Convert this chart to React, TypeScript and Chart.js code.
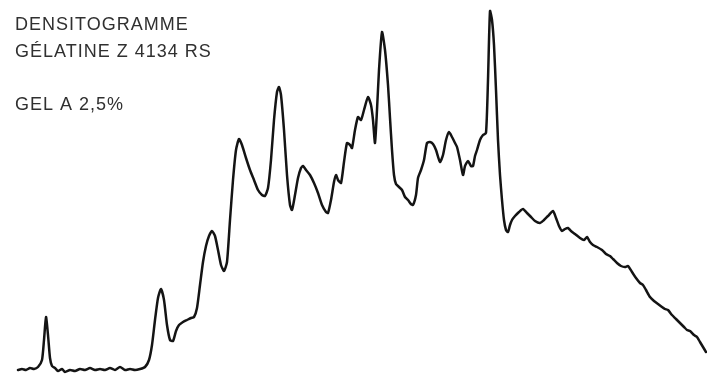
import React, { useEffect, useRef } from "react";
import { Chart, registerables } from "chart.js";

Chart.register(...registerables);

// Densitogram: migration position (arbitrary units) vs optical density (arbitrary units)
const positions: number[] = [18,22,26,30,34,38,42,44,46,48,50,52,55,58,62,65,70,75,80,85,90,95,100,105,110,115,120,125,130,135,140,145,149,152,155,158,161,164,167,170,173,176,179,183,187,191,194,197,200,203,206,209,212,215,218,221,224,227,230,233,236,239,242,246,250,254,258,262,265,268,271,274,277,279,281,284,287,290,292,295,298,301,303,306,310,314,318,322,326,328,331,334,336,338,341,344,347,350,352,355,358,361,364,368,371,373,375,377,379,382,385,388,390,392,394,396,399,402,405,408,411,413,416,418,421,424,427,430,433,436,440,443,446,449,452,455,457,460,463,465,468,471,473,475,477,480,483,486,488,490,492,494,496,498,500,502,504,506,508,510,512,515,519,523,527,531,535,540,544,548,553,556,559,562,565,568,571,575,580,584,587,590,593,597,602,606,610,613,617,621,625,628,632,636,640,643,646,650,654,658,662,665,668,672,676,680,684,687,690,694,697,700,703,706];

const density: number[] = [6,7,6,8,7,9,16,36,59,41,18,10,8,5,7,4,6,5,7,6,8,6,7,6,8,6,9,6,7,6,7,9,16,31,56,78,87,76,51,36,35,45,51,54,56,58,59,68,91,114,130,140,145,140,126,111,105,114,156,196,226,237,231,218,206,196,186,181,180,188,216,256,284,289,281,246,201,171,166,181,198,208,210,206,201,193,183,171,164,163,176,194,201,196,193,214,233,231,228,246,259,256,266,279,271,256,233,266,306,344,326,291,258,226,201,192,189,186,179,176,172,171,181,198,206,216,233,234,232,226,214,221,236,244,239,233,229,216,201,210,215,210,210,220,226,236,241,243,296,365,356,331,286,236,201,176,156,146,144,151,156,160,164,167,163,159,155,153,156,160,165,158,150,145,147,148,145,142,138,136,139,134,131,129,126,122,120,117,113,110,109,110,104,98,93,91,86,79,75,72,69,67,66,61,57,53,49,46,45,41,39,34,29,24];

const titleLines: string[] = ["DENSITOGRAMME", "GÉLATINE Z 4134 RS", "", "GEL A 2,5%"];

const textPlugin = {
  id: "cornerText",
  afterDraw(chart: any) {
    const ctx = chart.ctx;
    ctx.save();
    ctx.fillStyle = "#303030";
    ctx.font = "18px 'Liberation Sans', Arial, sans-serif";
    ctx.textBaseline = "alphabetic";
    ctx.textAlign = "left";
    try { (ctx as any).letterSpacing = "1px"; } catch (e) {}
    const baselines = [30, 57, 83, 110];
    titleLines.forEach((t, i) => {
      if (t) ctx.fillText(t, 15, baselines[i]);
    });
    ctx.restore();
  },
};

export default function App() {
  const ref = useRef<HTMLCanvasElement | null>(null);
  useEffect(() => {
    if (!ref.current) return;
    const chart = new Chart(ref.current, {
      type: "line",
      data: {
        datasets: [
          {
            data: positions.map((x, i) => ({ x, y: density[i] })),
            borderColor: "#141414",
            borderWidth: 2.5,
            pointRadius: 0,
            tension: 0.2,
            fill: false,
            clip: false as any,
            borderJoinStyle: "round",
            borderCapStyle: "round",
          },
        ],
      },
      options: {
        responsive: false,
        animation: false,
        devicePixelRatio: 1,
        layout: { padding: 0 },
        plugins: { legend: { display: false }, tooltip: { enabled: false }, title: { display: false } },
        scales: {
          x: { type: "linear", min: 0, max: 707, display: false },
          y: { type: "linear", min: 0, max: 376, display: false },
        },
      },
      plugins: [textPlugin],
    });
    return () => chart.destroy();
  }, []);
  return (
    <div style={{ position: "fixed", left: 0, top: 0, width: 707, height: 376, background: "#ffffff" }}>
      <canvas ref={ref} width={707} height={376} style={{ display: "block" }} />
    </div>
  );
}
